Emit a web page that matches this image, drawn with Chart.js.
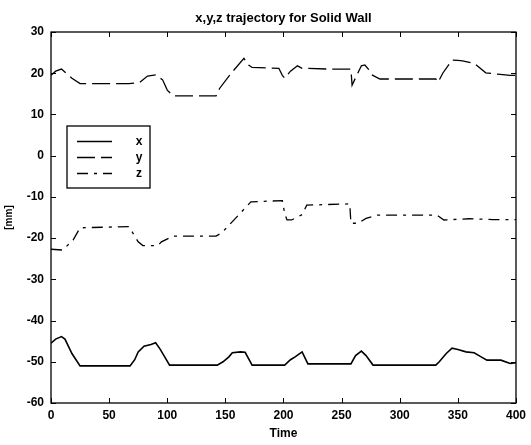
<!DOCTYPE html>
<html><head><meta charset="utf-8">
<script src="https://cdn.jsdelivr.net/npm/chart.js@4/dist/chart.umd.min.js"></script>
<style>html,body{margin:0;padding:0;background:#fff}#wrap{width:531px;height:445px}</style>
</head><body><div id="wrap"><canvas id="c" width="531" height="445"></canvas></div>
<script>
const titleText = 'x,y,z trajectory for Solid Wall';
const xAxisTitle = 'Time';
const yAxisTitle = '[mm]';
const xTicks = [0, 50, 100, 150, 200, 250, 300, 350, 400];
const yTicks = [-60, -50, -40, -30, -20, -10, 0, 10, 20, 30];
const seriesNames = ['x', 'y', 'z'];

const xTime = [0, 4, 9, 12, 18, 25, 68, 72, 75, 80, 86, 90, 94, 102, 143, 148, 153, 156, 163, 167, 173, 201, 206, 210, 216, 221, 258, 262, 267, 271, 277, 331, 334, 340, 345, 350, 357, 364, 370, 375, 387, 395, 400];
const xVals = [-45.5, -44.5, -43.9, -44.5, -48, -51, -51, -49.5, -47.6, -46.2, -45.8, -45.4, -47, -50.8, -50.8, -50, -48.8, -47.8, -47.6, -47.7, -50.8, -50.8, -49.5, -48.8, -47.6, -50.5, -50.5, -48.5, -47.4, -48.5, -50.8, -50.8, -50, -48, -46.7, -47, -47.6, -47.8, -48.8, -49.6, -49.6, -50.4, -50.2];

const yTime = [0, 4, 9, 13, 18, 25, 67, 76, 83, 90, 96, 100, 105, 142, 145, 155, 166, 170, 173, 196, 199, 201, 206, 212, 216, 240, 258, 259, 263, 267, 270, 273, 276, 283, 331, 333, 337, 345, 350, 354, 364, 374, 384, 395, 400];
const yVals = [19.5, 20.5, 21, 20, 18.8, 17.5, 17.5, 17.7, 19.3, 19.6, 18.4, 15.9, 14.5, 14.5, 16.3, 20, 23.6, 22, 21.4, 21.2, 19.5, 18.8, 20.5, 21.8, 21.2, 21, 21, 17.1, 19.5, 21.8, 22, 21, 19.6, 18.6, 18.6, 17.8, 20, 23.2, 23.1, 23, 22.4, 20.1, 19.8, 19.5, 19.5];

const zTime = [0, 10, 19, 25, 67, 75, 79, 92, 95, 105, 142, 147, 172, 199, 201, 203, 207, 216, 220, 257, 258, 264, 271, 281, 332, 338, 360, 380, 400];
const zVals = [-22.7, -22.9, -20.5, -17.5, -17.2, -20.9, -21.8, -21.8, -20.9, -19.5, -19.5, -18.7, -11.2, -10.9, -14, -15.6, -15.6, -14.3, -12, -11.7, -16.4, -16.4, -15.2, -14.4, -14.4, -15.6, -15.3, -15.5, -15.5];

const toPts = (ts, vs) => ts.map((t, i) => ({x: t, y: vs[i]}));
const FONT = '"Liberation Sans", Arial, sans-serif';

const framePlugin = {
  id: 'frame',
  afterDraw(chart) {
    const {ctx, chartArea: a, scales} = chart;
    ctx.save();
    ctx.strokeStyle = '#000';
    ctx.lineWidth = 1.3;
    ctx.strokeRect(a.left, a.top, a.right - a.left, a.bottom - a.top);
    ctx.lineWidth = 1;
    const L = 5;
    ctx.beginPath();
    xTicks.forEach(v => {
      const p = Math.round(scales.x.getPixelForValue(v)) + 0.5;
      ctx.moveTo(p, a.bottom); ctx.lineTo(p, a.bottom - L);
      ctx.moveTo(p, a.top); ctx.lineTo(p, a.top + L);
    });
    yTicks.forEach(v => {
      const p = Math.round(scales.y.getPixelForValue(v)) + 0.5;
      ctx.moveTo(a.left, p); ctx.lineTo(a.left + L, p);
      ctx.moveTo(a.right, p); ctx.lineTo(a.right - L, p);
    });
    ctx.stroke();
    // title
    ctx.fillStyle = '#000';
    ctx.font = 'bold 13px ' + FONT;
    ctx.textAlign = 'center';
    ctx.textBaseline = 'middle';
    ctx.fillText(titleText, (a.left + a.right) / 2, 18);
    // legend
    const bx = a.left + 16, by = a.top + 94, bw = 83, bh = 62;
    ctx.fillStyle = '#fff';
    ctx.fillRect(bx, by, bw, bh);
    ctx.lineWidth = 1.3;
    ctx.strokeRect(bx, by, bw, bh);
    chart.data.datasets.forEach((ds, i) => {
      const ry = by + 15.5 + i * 16;
      ctx.beginPath();
      ctx.setLineDash(ds.borderDash || []);
      ctx.lineWidth = 1.5;
      ctx.strokeStyle = '#000';
      ctx.moveTo(bx + 10, ry); ctx.lineTo(bx + 45, ry);
      ctx.stroke();
      ctx.setLineDash([]);
      ctx.fillStyle = '#000';
      ctx.font = 'bold 12px ' + FONT;
      ctx.textAlign = 'center';
      ctx.fillText(ds.label, bx + 72, ry);
    });
    ctx.restore();
  }
};

new Chart(document.getElementById('c'), {
  type: 'line',
  data: {
    datasets: [
      {label: seriesNames[0], data: toPts(xTime, xVals), borderColor: '#000', borderWidth: 1.6, borderDash: [], pointRadius: 0, tension: 0},
      {label: seriesNames[1], data: toPts(yTime, yVals), borderColor: '#000', borderWidth: 1.3, borderDash: [18, 6], pointRadius: 0, tension: 0},
      {label: seriesNames[2], data: toPts(zTime, zVals), borderColor: '#000', borderWidth: 1.3, borderDash: [11, 6, 3, 6], pointRadius: 0, tension: 0}
    ]
  },
  options: {
    responsive: false,
    animation: false,
    devicePixelRatio: 1,
    layout: {padding: {top: 32, right: 12, left: 0, bottom: 0}},
    plugins: {legend: {display: false}, title: {display: false}, tooltip: {enabled: false}},
    scales: {
      x: {
        type: 'linear', min: 0, max: 400,
        afterBuildTicks: s => { s.ticks = xTicks.map(v => ({value: v})); },
        afterFit: s => { s.height = 42; },
        grid: {display: false, drawTicks: false},
        border: {display: false},
        ticks: {color: '#000', font: {family: FONT, size: 12, weight: 'bold'}, padding: 5, maxRotation: 0, autoSkip: false},
        title: {display: true, text: xAxisTitle, color: '#000', font: {family: FONT, size: 12, weight: 'bold'}, padding: {top: 0, bottom: 4}}
      },
      y: {
        type: 'linear', min: -60, max: 30,
        afterBuildTicks: s => { s.ticks = yTicks.map(v => ({value: v})); },
        afterFit: s => { s.width = 51; },
        grid: {display: false, drawTicks: false},
        border: {display: false},
        ticks: {color: '#000', font: {family: FONT, size: 12, weight: 'bold'}, padding: 7, autoSkip: false},
        title: {display: true, text: yAxisTitle, color: '#000', font: {family: FONT, size: 10, weight: 'bold'}, padding: {top: 3.5, bottom: 0}}
      }
    }
  },
  plugins: [framePlugin]
});
</script></body></html>
